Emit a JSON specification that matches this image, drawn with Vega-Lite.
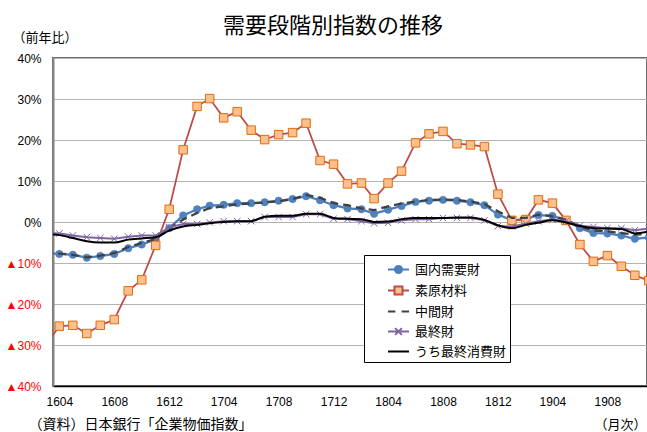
{
  "$schema": "https://vega.github.io/schema/vega-lite/v6.json",
  "width": 594,
  "height": 328,
  "autosize": {"type": "none"},
  "padding": {"left": 53, "top": 58, "right": 0, "bottom": 46},
  "background": "white",
  "title": {
    "text": "需要段階別指数の推移",
    "font": "Noto Sans CJK JP",
    "fontSize": 22,
    "fontWeight": "normal",
    "color": "#000000",
    "anchor": "middle",
    "frame": "group",
    "dx": -17,
    "dy": 7,
    "offset": 0
  },
  "config": {
    "view": {"stroke": "#6e6e6e", "strokeWidth": 2},
    "axis": {"labelFont": "Liberation Sans", "labelFontSize": 12, "labelColor": "#000000"}
  },
  "data": {
    "values": [
      {"month": "2016-03-01", "国内需要財": -7.6, "素原材料": -30.2, "中間財": -7.4, "最終財": -2.7, "うち最終消費財": -2.9},
      {"month": "2016-04-01", "国内需要財": -7.8, "素原材料": -25.4, "中間財": -7.7, "最終財": -2.8, "うち最終消費財": -3.2},
      {"month": "2016-05-01", "国内需要財": -8.0, "素原材料": -25.2, "中間財": -8.0, "最終財": -3.3, "うち最終消費財": -3.9},
      {"month": "2016-06-01", "国内需要財": -8.7, "素原材料": -27.2, "中間財": -8.6, "最終財": -3.7, "うち最終消費財": -4.7},
      {"month": "2016-07-01", "国内需要財": -8.3, "素原材料": -25.2, "中間財": -8.2, "最終財": -3.9, "うち最終消費財": -5.0},
      {"month": "2016-08-01", "国内需要財": -7.8, "素原材料": -23.8, "中間財": -7.6, "最終財": -4.1, "うち最終消費財": -5.0},
      {"month": "2016-09-01", "国内需要財": -6.4, "素原材料": -16.8, "中間財": -6.1, "最終財": -3.6, "うち最終消費財": -4.3},
      {"month": "2016-10-01", "国内需要財": -5.5, "素原材料": -14.1, "中間財": -5.1, "最終財": -3.3, "うち最終消費財": -4.0},
      {"month": "2016-11-01", "国内需要財": -4.3, "素原材料": -5.7, "中間財": -4.1, "最終財": -3.3, "うち最終消費財": -3.7},
      {"month": "2016-12-01", "国内需要財": -1.5, "素原材料": 3.1, "中間財": -1.6, "最終財": -1.3, "うち最終消費財": -2.1},
      {"month": "2017-01-01", "国内需要財": 1.6, "素原材料": 17.6, "中間財": 0.6, "最終財": -0.5, "うち最終消費財": -1.1},
      {"month": "2017-02-01", "国内需要財": 3.1, "素原材料": 28.2, "中間財": 2.2, "最終財": -0.5, "うち最終消費財": -0.7},
      {"month": "2017-03-01", "国内需要財": 4.0, "素原材料": 30.1, "中間財": 3.4, "最終財": -0.1, "うち最終消費財": -0.3},
      {"month": "2017-04-01", "国内需要財": 4.2, "素原材料": 25.4, "中間財": 3.8, "最終財": 0.2, "うち最終消費財": 0.0},
      {"month": "2017-05-01", "国内需要財": 4.6, "素原材料": 26.9, "中間財": 4.3, "最終財": 0.2, "うち最終消費財": 0.2},
      {"month": "2017-06-01", "国内需要財": 4.6, "素原材料": 22.4, "中間財": 4.5, "最終財": 0.2, "うち最終消費財": 0.2},
      {"month": "2017-07-01", "国内需要財": 4.8, "素原材料": 20.1, "中間財": 4.8, "最終財": 1.2, "うち最終消費財": 1.3},
      {"month": "2017-08-01", "国内需要財": 5.2, "素原材料": 21.3, "中間財": 5.0, "最終財": 1.2, "うち最終消費財": 1.5},
      {"month": "2017-09-01", "国内需要財": 5.6, "素原材料": 21.8, "中間財": 5.6, "最終財": 1.2, "うち最終消費財": 1.5},
      {"month": "2017-10-01", "国内需要財": 6.3, "素原材料": 24.1, "中間財": 6.6, "最終財": 1.9, "うち最終消費財": 2.0},
      {"month": "2017-11-01", "国内需要財": 5.3, "素原材料": 15.0, "中間財": 5.9, "最終財": 1.9, "うち最終消費財": 2.0},
      {"month": "2017-12-01", "国内需要財": 4.1, "素原材料": 14.1, "中間財": 4.6, "最終財": 0.8, "うち最終消費財": 1.0},
      {"month": "2018-01-01", "国内需要財": 3.3, "素原材料": 9.3, "中間財": 4.1, "最終財": 0.7, "うち最終消費財": 0.8},
      {"month": "2018-02-01", "国内需要財": 3.1, "素原材料": 9.5, "中間財": 3.3, "最終財": 0.2, "うち最終消費財": 0.7},
      {"month": "2018-03-01", "国内需要財": 2.0, "素原材料": 5.7, "中間財": 2.9, "最終財": -0.3, "うち最終消費財": 0.0},
      {"month": "2018-04-01", "国内需要財": 3.0, "素原材料": 9.5, "中間財": 3.8, "最終財": -0.2, "うち最終消費財": 0.1},
      {"month": "2018-05-01", "国内需要財": 3.9, "素原材料": 12.4, "中間財": 4.5, "最終財": 0.4, "うち最終消費財": 0.7},
      {"month": "2018-06-01", "国内需要財": 4.9, "素原材料": 19.3, "中間財": 5.0, "最終財": 0.7, "うち最終消費財": 1.0},
      {"month": "2018-07-01", "国内需要財": 5.2, "素原材料": 21.5, "中間財": 5.4, "最終財": 0.7, "うち最終消費財": 1.0},
      {"month": "2018-08-01", "国内需要財": 5.4, "素原材料": 22.1, "中間財": 5.5, "最終財": 1.0, "うち最終消費財": 1.0},
      {"month": "2018-09-01", "国内需要財": 5.2, "素原材料": 19.1, "中間財": 5.4, "最終財": 1.0, "うち最終消費財": 1.1},
      {"month": "2018-10-01", "国内需要財": 4.8, "素原材料": 18.8, "中間財": 5.0, "最終財": 1.0, "うち最終消費財": 1.1},
      {"month": "2018-11-01", "国内需要財": 4.1, "素原材料": 18.4, "中間財": 4.4, "最終財": 0.4, "うち最終消費財": 0.5},
      {"month": "2018-12-01", "国内需要財": 1.8, "素原材料": 6.8, "中間財": 2.6, "最終財": -1.0, "うち最終消費財": -0.8},
      {"month": "2019-01-01", "国内需要財": 0.4, "素原材料": 0.4, "中間財": 1.0, "最終財": -1.1, "うち最終消費財": -1.5},
      {"month": "2019-02-01", "国内需要財": 0.7, "素原材料": 0.6, "中間財": 1.0, "最終財": -0.4, "うち最終消費財": -0.7},
      {"month": "2019-03-01", "国内需要財": 1.7, "素原材料": 5.4, "中間財": 1.8, "最終財": 0.2, "うち最終消費財": -0.2},
      {"month": "2019-04-01", "国内需要財": 1.5, "素原材料": 4.6, "中間財": 1.4, "最終財": 0.6, "うち最終消費財": 0.4},
      {"month": "2019-05-01", "国内需要財": 0.4, "素原材料": 0.4, "中間財": 0.6, "最終財": 0.2, "うち最終消費財": -0.1},
      {"month": "2019-06-01", "国内需要財": -1.5, "素原材料": -5.5, "中間財": -1.1, "最終財": -0.9, "うち最終消費財": -1.0},
      {"month": "2019-07-01", "国内需要財": -2.7, "素原材料": -9.6, "中間財": -2.1, "最終財": -1.2, "うち最終消費財": -1.5},
      {"month": "2019-08-01", "国内需要財": -2.8, "素原材料": -8.2, "中間財": -2.3, "最終財": -1.5, "うち最終消費財": -1.6},
      {"month": "2019-09-01", "国内需要財": -3.3, "素原材料": -10.8, "中間財": -2.7, "最終財": -1.5, "うち最終消費財": -1.7},
      {"month": "2019-10-01", "国内需要財": -4.1, "素原材料": -13.0, "中間財": -3.1, "最終財": -2.0, "うち最終消費財": -2.8},
      {"month": "2019-11-01", "国内需要財": -3.8, "素原材料": -14.3, "中間財": -2.9, "最終財": -1.6, "うち最終消費財": -2.3}
    ]
  },
  "resolve": {"axis": {"x": "independent", "y": "independent"}},
  "layer": [
    {
      "mark": {"type": "line", "color": "#4a7ebb", "strokeWidth": 2.25, "clip": true},
      "encoding": {
        "x": {
          "field": "month", "type": "temporal",
          "scale": {"type": "utc", "domain": [{"year": 2016, "month": 3, "date": 18, "utc": true}, {"year": 2019, "month": 10, "date": 28, "utc": true}]},
          "axis": {
            "values": [
              {"year": 2016, "month": 4, "date": 1, "utc": true},
              {"year": 2016, "month": 8, "date": 1, "utc": true},
              {"year": 2016, "month": 12, "date": 1, "utc": true},
              {"year": 2017, "month": 4, "date": 1, "utc": true},
              {"year": 2017, "month": 8, "date": 1, "utc": true},
              {"year": 2017, "month": 12, "date": 1, "utc": true},
              {"year": 2018, "month": 4, "date": 1, "utc": true},
              {"year": 2018, "month": 8, "date": 1, "utc": true},
              {"year": 2018, "month": 12, "date": 1, "utc": true},
              {"year": 2019, "month": 4, "date": 1, "utc": true},
              {"year": 2019, "month": 8, "date": 1, "utc": true}
            ],
            "format": "%y%m",
            "labelFlush": false,
            "labelOverlap": false,
            "labelPadding": 10,
            "ticks": false,
            "grid": false,
            "domainColor": "#000000",
            "domainWidth": 1.5,
            "title": "（月次）",
            "titleX": 593,
            "titleY": 38,
            "titleAlign": "right",
            "titleBaseline": "middle",
            "titleFont": "Noto Sans CJK JP",
            "titleFontSize": 13,
            "titleFontWeight": "normal",
            "titleColor": "#000000"
          }
        },
        "y": {
          "field": "国内需要財", "type": "quantitative",
          "scale": {"domain": [-40, 40], "nice": false, "zero": false},
          "axis": {
            "orient": "left",
            "title": "（前年比）",
            "titleAngle": 0,
            "titleAlign": "left",
            "titleBaseline": "middle",
            "titleX": -41,
            "titleY": -21,
            "titleFont": "Noto Sans CJK JP",
            "titleFontSize": 13,
            "titleFontWeight": "normal",
            "titleColor": "#000000",
            "values": [-40, -30, -20, -10, 0, 10, 20, 30, 40],
            "labelExpr": "datum.value < 0 ? '▲' + (-datum.value) + '%' : datum.value + '%'",
            "labelColor": {"condition": {"test": "datum.value < 0", "value": "#ff0000"}, "value": "#000000"},
            "labelPadding": 12,
            "ticks": false,
            "grid": true,
            "gridColor": "#b3b3b3",
            "gridWidth": 1,
            "domainColor": "#868686",
            "domainWidth": 2
          }
        }
      }
    },
    {
      "mark": {"type": "point", "shape": "circle", "filled": true, "size": 55, "fill": "#4f81bd", "stroke": "#4a7ebb", "strokeWidth": 0.5, "opacity": 1, "clip": true},
      "encoding": {
        "x": {"field": "month", "type": "temporal", "axis": null},
        "y": {"field": "国内需要財", "type": "quantitative", "axis": null}
      }
    },
    {
      "mark": {"type": "line", "color": "#be4b48", "strokeWidth": 1.75, "clip": true},
      "encoding": {
        "x": {"field": "month", "type": "temporal", "axis": null},
        "y": {"field": "素原材料", "type": "quantitative", "axis": null}
      }
    },
    {
      "mark": {"type": "point", "shape": "square", "filled": true, "size": 72, "fill": "#fac090", "stroke": "#e46c0a", "strokeWidth": 1, "opacity": 1, "clip": true},
      "encoding": {
        "x": {"field": "month", "type": "temporal", "axis": null},
        "y": {"field": "素原材料", "type": "quantitative", "axis": null}
      }
    },
    {
      "mark": {"type": "line", "color": "#404040", "strokeWidth": 2.25, "strokeDash": [8, 5], "clip": true},
      "encoding": {
        "x": {"field": "month", "type": "temporal", "axis": null},
        "y": {"field": "中間財", "type": "quantitative", "axis": null}
      }
    },
    {
      "mark": {"type": "line", "color": "#8064a2", "strokeWidth": 2, "clip": true},
      "encoding": {
        "x": {"field": "month", "type": "temporal", "axis": null},
        "y": {"field": "最終財", "type": "quantitative", "axis": null}
      }
    },
    {
      "mark": {"type": "point", "shape": "M-1,-1L1,1M-1,1L1,-1", "filled": false, "size": 42, "stroke": "#8064a2", "strokeWidth": 1, "opacity": 1, "clip": true},
      "encoding": {
        "x": {"field": "month", "type": "temporal", "axis": null},
        "y": {"field": "最終財", "type": "quantitative", "axis": null}
      }
    },
    {
      "mark": {"type": "line", "color": "#000000", "strokeWidth": 2, "interpolate": "monotone", "clip": true},
      "encoding": {
        "x": {"field": "month", "type": "temporal", "axis": null},
        "y": {"field": "うち最終消費財", "type": "quantitative", "axis": null}
      }
    },
    {
      "transform": [{"fold": ["国内需要財", "素原材料", "中間財", "最終財", "うち最終消費財"], "as": ["series", "value"]}],
      "mark": {"type": "point", "opacity": 0, "clip": true},
      "encoding": {
        "x": {
          "field": "month", "type": "temporal",
          "axis": {
            "orient": "bottom",
            "labels": false,
            "ticks": false,
            "domain": false,
            "grid": false,
            "title": "（資料）日本銀行「企業物価指数」",
            "titleX": -25,
            "titleY": 38,
            "titleAlign": "left",
            "titleBaseline": "middle",
            "titleFont": "Noto Sans CJK JP",
            "titleFontSize": 14,
            "titleFontWeight": "normal",
            "titleColor": "#000000"
          }
        },
        "y": {"field": "value", "type": "quantitative", "axis": null},
        "stroke": {
          "field": "series", "type": "nominal",
          "scale": {"domain": ["国内需要財", "素原材料", "中間財", "最終財", "うち最終消費財"], "range": ["#4a7ebb", "#be4b48", "#404040", "#8064a2", "#000000"]},
          "legend": {
            "title": null,
            "orient": "none",
            "legendX": 311,
            "legendY": 197,
            "strokeColor": "#000000",
            "fillColor": "#ffffff",
            "padding": 3,
            "symbolSize": 441,
            "symbolOffset": 20,
            "symbolStrokeWidth": 2,
            "symbolOpacity": 1,
            "labelFont": "Noto Sans CJK JP",
            "labelFontSize": 13,
            "labelColor": "#000000",
            "labelOffset": 5,
            "labelLimit": 200,
            "labelExpr": "datum.label + '　'",
            "rowPadding": 1
          }
        },
        "fill": {
          "field": "series", "type": "nominal",
          "scale": {"domain": ["国内需要財", "素原材料", "中間財", "最終財", "うち最終消費財"], "range": ["#4f81bd", "#fac090", "transparent", "transparent", "transparent"]},
          "legend": {
            "title": null,
            "orient": "none",
            "legendX": 311,
            "legendY": 197,
            "strokeColor": "#000000",
            "fillColor": "#ffffff",
            "padding": 3,
            "symbolSize": 441,
            "symbolOffset": 20,
            "symbolStrokeWidth": 2,
            "symbolOpacity": 1,
            "labelFont": "Noto Sans CJK JP",
            "labelFontSize": 13,
            "labelColor": "#000000",
            "labelOffset": 5,
            "labelLimit": 200,
            "labelExpr": "datum.label + '　'",
            "rowPadding": 1
          }
        },
        "shape": {
          "field": "series", "type": "nominal",
          "scale": {
            "domain": ["国内需要財", "素原材料", "中間財", "最終財", "うち最終消費財"],
            "range": [
              "M-1,0L1,0M-0.34,0A0.34,0.34,0,1,0,0.34,0A0.34,0.34,0,1,0,-0.34,0Z",
              "M-1,0L-0.38,0M0.38,0L1,0M-0.38,-0.38L0.38,-0.38L0.38,0.38L-0.38,0.38Z",
              "M-1,0L-0.3,0M0.3,0L1,0",
              "M-1,0L1,0M-0.32,-0.32L0.32,0.32M-0.32,0.32L0.32,-0.32",
              "M-1,0L1,0"
            ]
          },
          "legend": {
            "title": null,
            "orient": "none",
            "legendX": 311,
            "legendY": 197,
            "strokeColor": "#000000",
            "fillColor": "#ffffff",
            "padding": 3,
            "symbolSize": 441,
            "symbolOffset": 20,
            "symbolStrokeWidth": 2,
            "symbolOpacity": 1,
            "labelFont": "Noto Sans CJK JP",
            "labelFontSize": 13,
            "labelColor": "#000000",
            "labelOffset": 5,
            "labelLimit": 200,
            "labelExpr": "datum.label + '　'",
            "rowPadding": 1
          }
        }
      }
    }
  ]
}
